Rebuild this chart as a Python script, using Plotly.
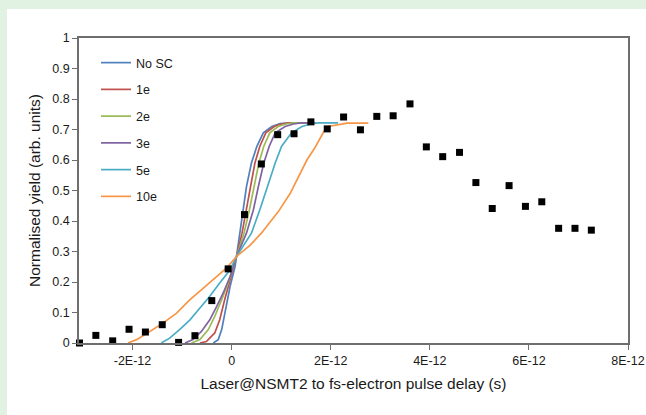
import plotly.graph_objects as go

# ---------------- data (delays in picoseconds, converted to seconds below) -------------
points_delay_ps = [-3.07, -2.74, -2.40, -2.07, -1.74, -1.40, -1.07, -0.74, -0.40, -0.07,
                   0.26, 0.60, 0.93, 1.26, 1.60, 1.93, 2.26, 2.60, 2.93, 3.26,
                   3.60, 3.93, 4.26, 4.60, 4.93, 5.26, 5.60, 5.93, 6.26, 6.60, 6.93, 7.26]
points_yield = [0.0, 0.025, 0.007, 0.045, 0.036, 0.060, 0.002, 0.024, 0.139, 0.243,
                0.421, 0.587, 0.683, 0.686, 0.725, 0.702, 0.741, 0.699, 0.743, 0.745,
                0.784, 0.643, 0.611, 0.625, 0.526, 0.441, 0.516, 0.448, 0.463, 0.376, 0.376, 0.370]

nosc_x = [-0.37, -0.27, -0.20, -0.12, -0.03, 0.07, 0.10, 0.17, 0.23, 0.30, 0.40, 0.51, 0.64, 0.81, 0.98, 1.18, 1.65]
nosc_y = [0, 0.011, 0.044, 0.109, 0.186, 0.251, 0.284, 0.36, 0.437, 0.513, 0.59, 0.645, 0.689, 0.71, 0.719, 0.722, 0.722]

e1_x = [-0.64, -0.51, -0.34, -0.24, -0.14, -0.03, 0.10, 0.21, 0.30, 0.38, 0.47, 0.57, 0.69, 0.86, 1.00, 1.15, 1.65]
e1_y = [0, 0.005, 0.033, 0.076, 0.142, 0.208, 0.284, 0.36, 0.437, 0.513, 0.59, 0.645, 0.689, 0.71, 0.718, 0.722, 0.722]

e2_x = [-0.81, -0.64, -0.47, -0.34, -0.20, -0.07, 0.10, 0.25, 0.36, 0.45, 0.55, 0.65, 0.77, 0.94, 1.10, 1.25, 1.65]
e2_y = [0, 0.011, 0.044, 0.087, 0.142, 0.197, 0.284, 0.36, 0.437, 0.513, 0.59, 0.645, 0.689, 0.71, 0.718, 0.722, 0.722]

e3_x = [-0.94, -0.78, -0.61, -0.44, -0.30, -0.17, -0.03, 0.10, 0.30, 0.44, 0.54, 0.65, 0.76, 0.88, 1.08, 1.25, 1.40, 1.70]
e3_y = [0, 0.011, 0.038, 0.076, 0.12, 0.164, 0.218, 0.284, 0.36, 0.437, 0.513, 0.59, 0.645, 0.689, 0.71, 0.718, 0.722, 0.722]

e5_x = [-1.42, -1.25, -1.05, -0.84, -0.64, -0.44, -0.24, -0.03, 0.10, 0.40, 0.57, 0.72, 0.88, 1.01, 1.21, 1.42, 1.60, 1.75, 2.15]
e5_y = [0, 0.016, 0.044, 0.076, 0.115, 0.153, 0.197, 0.24, 0.284, 0.36, 0.437, 0.513, 0.59, 0.645, 0.689, 0.71, 0.718, 0.722, 0.722]

e10_x = [-2.09, -1.92, -1.65, -1.38, -1.11, -0.84, -0.57, -0.30, -0.10, 0.10, 0.37, 0.60, 0.94, 1.18, 1.35,
         1.52, 1.68, 1.85, 1.95, 2.20, 2.33, 2.76]
e10_y = [0, 0.011, 0.038, 0.066, 0.098, 0.142, 0.18, 0.218, 0.246, 0.284, 0.32, 0.36, 0.43, 0.49, 0.546,
         0.60, 0.64, 0.69, 0.71, 0.718, 0.721, 0.721]

series_names = ["No SC", "1e", "2e", "3e", "5e", "10e"]
series_x = [nosc_x, e1_x, e2_x, e3_x, e5_x, e10_x]
series_y = [nosc_y, e1_y, e2_y, e3_y, e5_y, e10_y]
series_colors = ["#4F81BD", "#C0504D", "#9BBB59", "#8064A2", "#4BACC6", "#F79646"]

x_tick_vals = [-2e-12, 0, 2e-12, 4e-12, 6e-12, 8e-12]
x_tick_text = ["-2E-12", "0", "2E-12", "4E-12", "6E-12", "8E-12"]
y_tick_vals = [0, 0.1, 0.2, 0.3, 0.4, 0.5, 0.6, 0.7, 0.8, 0.9, 1]
y_tick_text = ["0", "0.1", "0.2", "0.3", "0.4", "0.5", "0.6", "0.7", "0.8", "0.9", "1"]

PS = 1e-12

# ---------------- figure -------------
W, H = 646, 415
ML, MR, MT, MB = 79, 18, 38, 72
pw, ph = W - ML - MR, H - MT - MB

def px_x(px):
    return (px - ML) / pw

def px_y(py):
    return (H - MB - py) / ph

fig = go.Figure()

for name, xs, ys, col in zip(series_names, series_x, series_y, series_colors):
    fig.add_trace(go.Scatter(
        x=[v * PS for v in xs], y=ys, mode="lines", name=name,
        legendgroup=name,
        line=dict(color=col, width=1.7),
    ))

fig.add_trace(go.Scatter(
    x=[v * PS for v in points_delay_ps], y=points_yield, mode="markers",
    marker=dict(symbol="square", size=7, color="black"),
    showlegend=False, cliponaxis=False,
))

font_family = "Liberation Sans, Arial, sans-serif"
text_col = "#1a1a1a"
axis_col = "#6e6e6e"

fig.update_layout(
    width=W, height=H,
    margin=dict(l=ML, r=MR, t=MT, b=MB, autoexpand=False),
    paper_bgcolor="#e2f2e2",
    plot_bgcolor="white",
    font=dict(family=font_family, size=12, color=text_col),
    showlegend=True,
    legend=dict(
        x=px_x(96), y=px_y(48), xanchor="left", yanchor="top",
        bgcolor="rgba(0,0,0,0)", font=dict(size=12.5, color=text_col),
        tracegroupgap=7.5, itemwidth=30,
    ),
    shapes=[dict(
        type="rect", xref="paper", yref="paper", layer="below",
        x0=px_x(7), x1=px_x(W + 5), y0=px_y(H + 5), y1=px_y(9),
        fillcolor="white", line=dict(width=0),
    )],
)

fig.update_xaxes(
    range=[-3.08e-12, 8e-12], automargin=False,
    tickmode="array", tickvals=x_tick_vals, ticktext=x_tick_text,
    ticks="outside", ticklen=5, tickcolor=axis_col, tickwidth=1.3,
    showline=True, linecolor=axis_col, linewidth=1.5, mirror=True,
    showgrid=False, zeroline=False,
    tickfont=dict(size=12.5, color=text_col),
    title=dict(text="Laser@NSMT2 to fs-electron pulse delay (s)",
               font=dict(size=15.5, color=text_col), standoff=11),
)
fig.update_yaxes(
    range=[0, 1], automargin=False,
    tickmode="array", tickvals=y_tick_vals, ticktext=y_tick_text,
    ticks="outside", ticklen=5, tickcolor=axis_col, tickwidth=1.3,
    showline=True, linecolor=axis_col, linewidth=1.5, mirror=True,
    showgrid=False, zeroline=False,
    tickfont=dict(size=12.5, color=text_col),
    title=dict(text="Normalised yield (arb. units)",
               font=dict(size=15.5, color=text_col), standoff=8),
)

fig.write_html("out.html")
